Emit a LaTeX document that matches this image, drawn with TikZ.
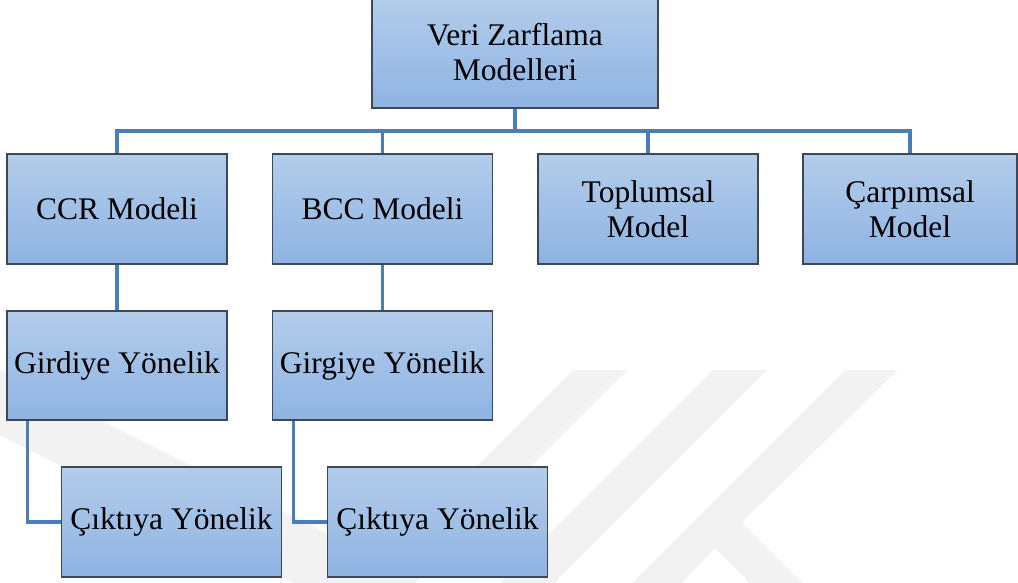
\documentclass[tikz,border=0pt]{standalone}
\usepackage{fontspec}
\setmainfont{Liberation Serif}
\definecolor{boxtop}{HTML}{B3CDEB}
\definecolor{boxbot}{HTML}{8EB3E2}
\definecolor{boxline}{HTML}{3C4858}
\definecolor{connc}{HTML}{4A7EBB}
\definecolor{wm}{HTML}{F2F2F2}
\tikzset{
  mbox/.style={rectangle, draw=boxline, line width=1.4pt, top color=boxtop, bottom color=boxbot,
    minimum width=220pt, minimum height=110pt, inner sep=0pt, align=center, text=black,
    font=\fontsize{31.5}{35}\selectfont},
  conn/.style={draw=connc, line width=3.2pt},
  wmark/.style={fill=wm, draw=none}
}
\begin{document}
\begin{tikzpicture}[x=1pt,y=-1pt]
\useasboundingbox (0,0) rectangle (1018,582);
% faint watermark
\fill[wmark] (0,370) -- (382,561) -- (573,370) -- (628,370) -- (375,623) -- (0,435) -- cycle;
\fill[wmark] (713,370) -- (767,370) -- (507,630) -- (453,630) -- cycle;
\fill[wmark] (845,370) -- (898,370) -- (742,522) -- (852,632) -- (799,632) -- (715,548) -- (636,632) -- (583,632) -- cycle;
% nodes
\node[mbox, minimum width=286pt, minimum height=112pt] (root) at (515,52) {Veri Zarflama\\Modelleri};
\node[mbox] (ccr) at (117,209) {CCR Modeli};
\node[mbox] (bcc) at (382.5,209) {BCC Modeli};
\node[mbox] (topl) at (648,209) {Toplumsal\\Model};
\node[mbox, minimum width=214pt] (carp) at (910,209) {Çarpımsal\\Model};
\node[mbox, minimum height=109pt] (gir) at (117,365.5) {Girdiye Yönelik};
\node[mbox, minimum height=109pt] (girg) at (382.5,365.5) {Girgiye Yönelik};
\node[mbox] (cik1) at (171.5,522) {Çıktıya Yönelik};
\node[mbox] (cik2) at (437.5,522) {Çıktıya Yönelik};
% connectors
\coordinate (bus) at (0,131);
\draw[conn] (root.south) -- (root.south |- bus);
\draw[conn] (ccr.north) -- (ccr.north |- bus) -| (carp.north);
\draw[conn] (bcc.north) -- (bcc.north |- bus);
\draw[conn] (topl.north) -- (topl.north |- bus);
\draw[conn] (ccr.south) -- (gir.north);
\draw[conn] (bcc.south) -- (girg.north);
\draw[conn] ([xshift=21pt]gir.south west) |- (cik1.west);
\draw[conn] ([xshift=22pt]girg.south west) |- (cik2.west);
\end{tikzpicture}
\end{document}
